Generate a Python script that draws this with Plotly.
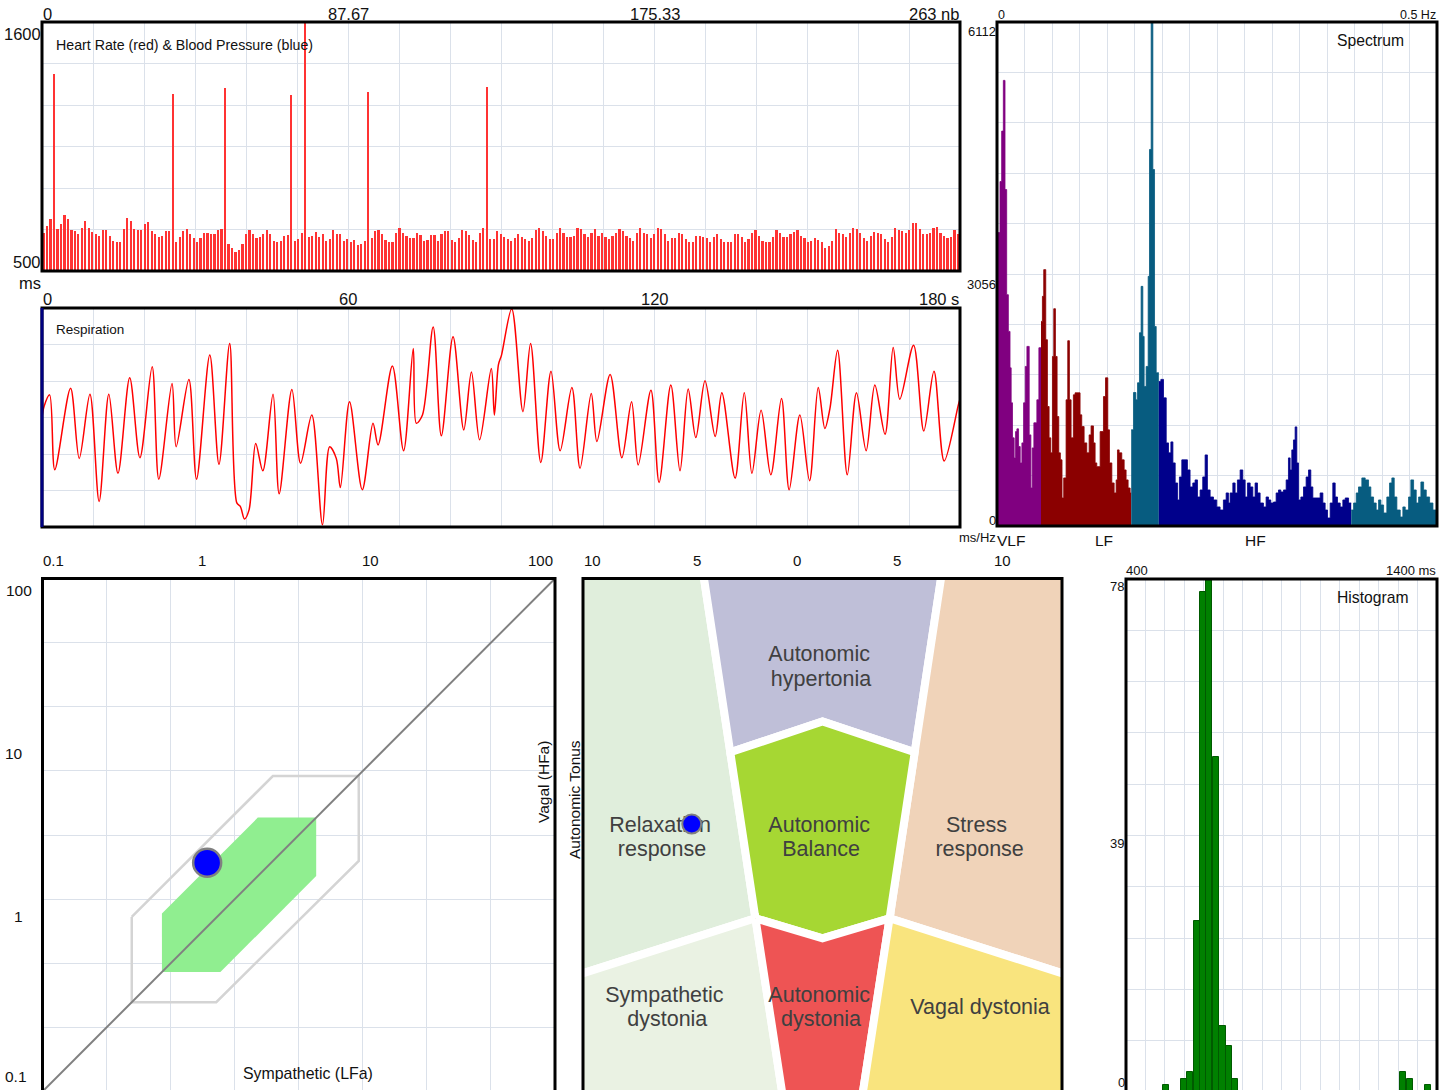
import plotly.graph_objects as go

W, H = 1450, 1090
FONT = "Liberation Sans, Arial, Helvetica, sans-serif"
GRID = "#dbe1ea"

# ---------------- data ----------------
# RR intervals (ms) per beat, 263 beats
HR_MS = [
    669, 699, 728, 1372, 684, 709, 746, 728, 680, 677,
    662, 691, 721, 691, 674, 662, 655, 680, 680, 655,
    633, 628, 628, 684, 733, 721, 684, 680, 680, 709,
    716, 677, 662, 650, 655, 677, 677, 1283, 628, 650,
    677, 684, 662, 647, 628, 644, 666, 666, 662, 662,
    680, 684, 1307, 621, 603, 585, 591, 621, 662, 680,
    662, 644, 650, 662, 680, 662, 633, 628, 633, 655,
    659, 1276, 633, 640, 666, 1599, 650, 655, 674, 650,
    662, 633, 640, 680, 662, 662, 633, 640, 630, 637,
    615, 618, 633, 1290, 644, 677, 680, 662, 637, 630,
    630, 666, 691, 666, 655, 644, 644, 666, 659, 633,
    637, 659, 659, 633, 662, 677, 677, 637, 630, 644,
    680, 677, 659, 637, 630,
    669, 691, 1313, 640, 640, 677, 662, 650, 640, 633,
    644, 662, 650, 640, 633, 644, 680, 691, 677, 655,
    640, 640, 669, 691, 669, 650, 650, 655, 691, 684,
    662, 650, 669, 684, 655, 669, 650, 640, 655, 669,
    684, 677, 655, 644, 633, 669, 691, 666, 662, 644,
    662, 691, 684, 662, 633, 644, 644, 666, 662, 640,
    628, 628, 655, 655, 650, 644, 628, 650, 662, 640,
    628, 628, 628, 662, 662, 650, 628, 640, 669, 680,
    655, 633, 628, 628, 650, 680, 669, 650, 650, 662,
    674, 680, 655, 644, 628, 633, 647, 637, 628, 603,
    610, 633, 684, 669, 662, 650, 669, 691, 684, 666,
    644, 633, 655, 674, 666, 662, 640, 628, 650, 691,
    680, 677, 669, 680, 713, 713, 684, 662, 662, 666,
    691, 696, 669, 655, 644, 650, 680, 662,
]

# Respiration (time s, amplitude in grid units)
RESP_T = [0, 0.4, 1.5, 2.5, 5.6, 7.3, 9.4, 11.2, 13.1, 14.9, 17.2, 19.2, 21.6, 22.9, 25.5,
          26.3, 28.8, 30.3, 32.9, 34.7, 36.8, 38.2, 38.9, 39.7, 40.6, 41.9, 43.3, 45.3, 46.5, 49.0,
          50.7, 52.9, 55.0, 56.4, 57.7, 58.5, 60.3, 62.8, 64.9, 65.9, 68.7, 70.9, 72.8, 73.4, 74.6,
          76.7, 78.3, 80.6, 82.7, 84.2, 85.8, 88.1, 88.7, 89.5, 90.1, 92.1, 94.3, 95.8, 97.8, 99.8,
          101.6, 103.9, 105.5, 107.7, 108.8, 111.4, 113.7, 115.6, 116.9, 119.4, 121.0, 123.3, 125.1,
          126.7, 128.2, 130.0, 132.0, 133.3, 135.9, 137.7, 139.2, 141.0, 142.9, 145.0, 146.5, 148.6,
          150.5, 152.2, 153.5, 154.5, 156.0, 157.9, 159.7, 161.6, 163.3, 165.3, 166.9, 168.2, 170.9,
          172.9, 174.9, 176.9, 179.7, 180]
RESP_V = [3.0, 3.30, 3.62, 1.57, 3.80, 1.88, 3.64, 0.70, 3.64, 1.47, 4.09, 1.90, 4.39, 1.31, 3.93,
          2.20, 4.04, 1.31, 4.71, 1.72, 5.03, 0.66, 0.56, 0.22, 0.47, 2.29, 1.54, 3.64, 0.91, 3.77,
          1.75, 3.07, 0.06, 2.20, 1.88, 1.08, 3.43, 1.02, 2.84, 2.25, 4.41, 2.09, 4.89, 2.84, 3.07,
          5.48, 2.50, 5.21, 2.66, 4.25, 2.39, 4.34, 3.07, 4.45, 4.71, 5.98, 3.16, 5.03, 1.77, 4.27,
          2.09, 3.82, 1.61, 3.66, 2.34, 4.18, 1.90, 3.43, 1.70, 3.75, 1.22, 3.89, 1.54,
          3.78, 2.45, 4.01, 2.48, 3.68, 1.34, 3.68, 1.47, 3.20, 1.43, 3.52, 1.02, 3.07,
          1.27, 3.82, 2.70, 3.25, 4.84, 1.43, 3.68, 2.09, 3.89, 2.54, 4.92, 3.50, 4.98,
          2.63, 4.27, 1.81, 3.36, 3.5]

# Spectrum (Hz, ms2/Hz) per band
VLF_F = [0.0, 0.0034, 0.0053, 0.0072, 0.0091, 0.0110, 0.0129, 0.0148, 0.0161, 0.0176, 0.0195, 0.0211,
         0.0226, 0.0245, 0.0264, 0.0283, 0.0302, 0.0321, 0.0340, 0.0366, 0.0385, 0.0400, 0.0419, 0.0453,
         0.0476, 0.0500]
VLF_P = [3558, 4177, 4789, 5404, 4080, 2805, 2360, 1918, 1494, 1069, 826, 1145,
         1178, 963, 765, 1008, 1494, 1935, 2178, 1105, 461, 947, 1251, 1530,
         2162, 2162]
LF_F = [0.0500, 0.0516, 0.0531, 0.0554, 0.0573, 0.0592, 0.0611, 0.0630, 0.0645, 0.0664, 0.0683, 0.0702,
        0.0720, 0.0739, 0.0758, 0.0785, 0.0804, 0.0823, 0.0842, 0.0868, 0.0887, 0.0944, 0.0963, 0.0990,
        0.1020, 0.1047, 0.1069, 0.1096, 0.1115, 0.1134, 0.1172, 0.1210, 0.1233, 0.1259, 0.1278, 0.1305,
        0.1331, 0.1354, 0.1369, 0.1388, 0.1418, 0.1445, 0.1467, 0.1490, 0.1513, 0.1525]
LF_P = [2481, 2785, 3109, 2259, 1449, 1069, 887, 2056, 2635, 2056, 1327, 887,
        802, 340, 583, 1530, 2247, 1530, 1069, 1591, 1615, 1348, 1206, 1008,
        887, 1105, 1214, 1008, 765, 720, 1145, 1570, 1797, 1166, 765, 522,
        401, 559, 923, 887, 802, 680, 559, 461, 401, 401]
TR1_F = [0.1525, 0.1551, 0.1578, 0.1597, 0.1619, 0.1638, 0.1657, 0.1672, 0.1695, 0.1718, 0.1733, 0.1752,
         0.1771, 0.1790, 0.1809, 0.1839]
TR1_P = [1166, 1619, 1530, 1737, 2344, 2906, 2299, 1692, 1935, 3028, 4566, 6112,
         4323, 2420, 1858, 1858]
HF_F = [0.1839, 0.1862, 0.1892, 0.1923, 0.1949, 0.1976, 0.1999, 0.2025, 0.2052, 0.2073, 0.2100, 0.2164,
        0.2194, 0.2225, 0.2251, 0.2278, 0.2308, 0.2338, 0.2365, 0.2391, 0.2422, 0.2460, 0.2497, 0.2535,
        0.2573, 0.2604, 0.2630, 0.2649, 0.2680, 0.2706, 0.2732, 0.2763, 0.2793, 0.2820, 0.2846, 0.2877,
        0.2907, 0.2933, 0.2960, 0.2990, 0.3028, 0.3058, 0.3085, 0.3111, 0.3142, 0.3172, 0.3199, 0.3225,
        0.3256, 0.3286, 0.3312, 0.3331, 0.3350, 0.3369, 0.3388, 0.3407, 0.3426, 0.3453, 0.3483, 0.3513,
        0.3540, 0.3566, 0.3589, 0.3672, 0.3703, 0.3729, 0.3756, 0.3786, 0.3816, 0.3843, 0.3869, 0.3900,
        0.3930, 0.3957, 0.3995, 0.4025]
HF_P = [1753, 1778, 1554, 1008, 887, 1020, 765, 522, 316, 595, 802, 680,
        474, 522, 559, 352, 437, 595, 862, 437, 352, 316, 231, 194,
        316, 401, 279, 401, 522, 401, 559, 680, 559, 352, 522, 474,
        352, 522, 401, 279, 231, 352, 316, 279, 291, 401, 437, 413,
        437, 559, 826, 680, 923, 1044, 1202, 765, 316, 352, 474, 595,
        680, 474, 340, 401, 279, 194, 97, 279, 522, 352, 279, 231,
        316, 340, 279, 279]
TR2_F = [0.4025, 0.4052, 0.4082, 0.4108, 0.4146, 0.4184, 0.4222, 0.4248, 0.4279, 0.4309, 0.4336, 0.4362,
         0.4393, 0.4430, 0.4461, 0.4487, 0.4514, 0.4544, 0.4582, 0.4612, 0.4639, 0.4677, 0.4703, 0.4734,
         0.4764, 0.4791, 0.4817, 0.4848, 0.4878, 0.4916, 0.4954, 0.5000]
TR2_P = [194, 279, 401, 474, 583, 559, 474, 352, 279, 194, 316, 255,
         158, 352, 522, 583, 352, 194, 109, 231, 194, 352, 559, 437,
         279, 352, 534, 437, 352, 279, 194, 194]

# Autonomic balance (log-log)
NORM_LF = [0.5, 0.5, 1.1, 4.0, 4.0, 1.82, 0.5]
NORM_HF = [1.1, 0.5, 0.5, 1.82, 4.0, 4.0, 1.1]
WIDE_LF = [0.333, 0.333, 1.04, 7.1, 7.1, 2.23, 0.333]
WIDE_HF = [1.05, 0.333, 0.333, 2.23, 7.0, 7.0, 1.05]
DIAG = [0.1, 100]
PATIENT_LF = [0.92]
PATIENT_HF = [2.18]

# Zone map (normalised coordinates): polygons
ZONES = [
    ("#e0eedc", [-1.1, -0.511, -0.385, -0.28, -1.1], [1.1, 1.1, 0.322, -0.326, -0.570]),
    ("#bfbfd8", [-0.511, 0.511, 0.385, 0.0, -0.385], [1.1, 1.1, 0.322, 0.442, 0.322]),
    ("#f0d3b9", [0.511, 1.1, 1.1, 0.28, 0.385], [1.1, 1.1, -0.570, -0.326, 0.322]),
    ("#a6d733", [-0.385, 0.0, 0.385, 0.28, 0.0, -0.28], [0.322, 0.442, 0.322, -0.326, -0.404, -0.326]),
    ("#eaf2e3", [-1.1, -0.28, -0.153, -1.1], [-0.570, -0.326, -1.1, -1.1]),
    ("#ee5454", [-0.28, 0.0, 0.28, 0.153, -0.153], [-0.326, -0.404, -0.326, -1.1, -1.1]),
    ("#f9e47e", [0.28, 1.1, 1.1, 0.153], [-0.326, -0.570, -1.1, -1.1]),
]
ZONE_TEXT = ["Autonomic", "hypertonia", "Relaxation", "response", "Autonomic", "Balance",
             "Stress", "response", "Sympathetic", "dystonia", "Autonomic", "dystonia", "Vagal dystonia"]
ZONE_TEXT_U = [-0.014, -0.006, -0.678, -0.670, -0.014, -0.006, 0.643, 0.656, -0.660, -0.648,
               -0.014, -0.006, 0.658]
ZONE_TEXT_V = [0.700, 0.602, 0.033, -0.060, 0.033, -0.060, 0.033, -0.060, -0.630, -0.727,
               -0.630, -0.727, -0.680]
ZONE_POINT = ([-0.546], [0.042])

# Histogram (ms, count)
HIST_MS = [528, 587, 606, 628, 648, 668, 690, 710, 731, 751, 1290, 1312, 1372]
HIST_N = [1, 2, 3, 26, 76, 78, 51, 10, 7, 2, 3, 2, 1]


# ---------------- helpers ----------------
def px(x):
    return x / W


def py(y):
    return 1 - y / H


fig = go.Figure()

# 1. heart rate
fig.add_trace(go.Bar(x=[i + 0.5 for i in range(len(HR_MS))], y=HR_MS, width=0.48,
                     marker=dict(color="#ff3333", line=dict(width=0)),
                     xaxis="x", yaxis="y", hoverinfo="skip"))
# 2. respiration
fig.add_trace(go.Scatter(x=RESP_T, y=RESP_V, mode="lines",
                         line=dict(color="#ff0000", width=1.5, shape="spline", smoothing=0.9),
                         xaxis="x2", yaxis="y2"))
# 3. spectrum
for f, p, c in [(VLF_F, VLF_P, "#800080"), (LF_F, LF_P, "#8b0000"), (TR1_F, TR1_P, "#075c80"),
                (HF_F, HF_P, "#00008b"), (TR2_F, TR2_P, "#075c80")]:
    fig.add_trace(go.Scatter(x=f, y=p, mode="lines", line=dict(shape="hv", width=0.8, color=c),
                             fill="tozeroy", fillcolor=c, xaxis="x3", yaxis="y3"))
# 4. log-log balance
fig.add_trace(go.Scatter(x=NORM_LF, y=NORM_HF, mode="lines", fill="toself", fillcolor="#90ee90",
                         line=dict(width=0, color="#90ee90"), xaxis="x4", yaxis="y4"))
fig.add_trace(go.Scatter(x=WIDE_LF, y=WIDE_HF, mode="lines", line=dict(width=2.5, color="#d4d4d4"),
                         xaxis="x4", yaxis="y4"))
fig.add_trace(go.Scatter(x=DIAG, y=DIAG, mode="lines", line=dict(width=2, color="#808080"),
                         xaxis="x4", yaxis="y4"))
fig.add_trace(go.Scatter(x=PATIENT_LF, y=PATIENT_HF, mode="markers",
                         marker=dict(size=28, color="#0000ff", line=dict(width=2.5, color="#808080")),
                         xaxis="x4", yaxis="y4"))
# 5. zone map
for col, zx, zy in ZONES:
    fig.add_trace(go.Scatter(x=zx + [zx[0]], y=zy + [zy[0]], mode="lines", fill="toself",
                             fillcolor=col, line=dict(color="white", width=8),
                             xaxis="x5", yaxis="y5"))
fig.add_trace(go.Scatter(x=ZONE_TEXT_U, y=ZONE_TEXT_V, mode="text",
                         text=ZONE_TEXT, textposition="middle center",
                         textfont=dict(size=21.5, color="#404040", family=FONT),
                         xaxis="x5", yaxis="y5"))
fig.add_trace(go.Scatter(x=ZONE_POINT[0], y=ZONE_POINT[1], mode="markers",
                         marker=dict(size=19, color="#0000ff", line=dict(width=2, color="#808080")),
                         xaxis="x5", yaxis="y5"))
# 6. histogram
fig.add_trace(go.Bar(x=HIST_MS, y=HIST_N, width=20,
                     marker=dict(color="#008000", line=dict(color="#005a00", width=1)),
                     xaxis="x6", yaxis="y6"))


def ax(domain, rng, **kw):
    d = dict(domain=domain, range=rng, showticklabels=False, ticks="", zeroline=False,
             showline=False, showgrid=True, gridcolor=GRID, gridwidth=1, fixedrange=True,
             showspikes=False)
    d.update(kw)
    return d


LOG_GRID = [10 ** (-1 + 3 * k / 8) for k in range(1, 8)]

fig.update_layout(
    width=W, height=H, margin=dict(l=0, r=0, t=0, b=0),
    paper_bgcolor="white", plot_bgcolor="white", showlegend=False, hovermode=False,
    font=dict(family=FONT, color="#111111"),
    xaxis=ax([px(42), px(960)], [0, 263], tick0=0, dtick=263 / 18, anchor="y"),
    yaxis=ax([py(271), py(22)], [500, 1600], tick0=500, dtick=1100 / 6, anchor="x"),
    xaxis2=ax([px(42), px(960)], [0, 180], tick0=0, dtick=10, anchor="y2"),
    yaxis2=ax([py(527), py(308)], [0, 6], tick0=0, dtick=1, anchor="x2"),
    xaxis3=ax([px(997), px(1437)], [0, 0.5], tick0=0, dtick=0.03125, anchor="y3"),
    yaxis3=ax([py(526), py(22)], [0, 6112], tick0=0, dtick=611.2, anchor="x3"),
    xaxis4=ax([px(42.5), px(555)], [-1, 2], type="log", tickvals=LOG_GRID, anchor="y4"),
    yaxis4=ax([0, py(578.6)], [-0.991, 2], type="log", tickvals=LOG_GRID, anchor="x4"),
    xaxis5=ax([px(583), px(1062)], [-1, 1], showgrid=False, anchor="y5"),
    yaxis5=ax([0, py(578.5)], [-0.996, 1], showgrid=False, anchor="x5"),
    xaxis6=ax([px(1126), px(1437)], [400, 1400], tick0=400, dtick=62.5, anchor="y6"),
    yaxis6=ax([0, py(579)], [0.3, 78], tick0=0, dtick=7.8, anchor="x6"),
    bargap=0,
)

# panel borders
shapes = []
for (x0, y0, x1, y1) in [(42, 22, 960, 271), (42, 308, 960, 527), (997, 22, 1437, 526),
                         (42.5, 578.6, 555, 1096), (583, 578.5, 1062, 1096), (1126, 579, 1437, 1096)]:
    shapes.append(dict(type="rect", xref="paper", yref="paper", x0=px(x0), x1=px(x1),
                       y0=py(y1), y1=py(y0), line=dict(color="black", width=3), layer="above"))
shapes.append(dict(type="line", xref="paper", yref="paper", x0=px(42), x1=px(42), y0=py(527), y1=py(308),
                   line=dict(color="#000080", width=3), layer="above"))
fig.update_layout(shapes=shapes)

anns = []


def ann(text, x, y, size, xa="center", ya="middle", angle=0, color="#111111"):
    anns.append(dict(text=text, x=px(x), y=py(y), xref="paper", yref="paper", showarrow=False,
                     xanchor=xa, yanchor=ya, textangle=angle, borderpad=0,
                     font=dict(size=size, color=color, family=FONT)))


# HR panel
ann("0", 42, 14, 16.5, "left")
ann("87.67", 348, 14, 16.5)
ann("175.33", 655, 14, 16.5)
ann("263 nb", 960, 14, 16.5, "right")
ann("1600", 42, 34, 16.5, "right")
ann("500", 42, 262, 16.5, "right")
ann("ms", 30, 283, 16.5)
ann("Heart Rate (red) &amp; Blood Pressure (blue)", 55, 45, 14.2, "left")
# respiration
ann("0", 42, 299, 16.5, "left")
ann("60", 348, 299, 16.5)
ann("120", 655, 299, 16.5)
ann("180 s", 960, 299, 16.5, "right")
ann("Respiration", 55, 330, 13.5, "left")
# spectrum
ann("0", 997, 15, 12.5, "left")
ann("0.5 Hz", 1437, 15, 12.5, "right")
ann("6112", 997, 31, 13, "right")
ann("3056", 997, 284, 13, "right")
ann("0", 997, 520, 13, "right")
ann("ms/Hz", 997, 537, 13, "right")
ann("VLF", 996, 540, 15.5, "left")
ann("LF", 1104, 540, 15.5)
ann("HF", 1255, 540, 15.5)
ann("Spectrum", 1370, 40, 15.7)
# log-log panel
ann("0.1", 42, 560, 15, "left")
ann("1", 202, 560, 15)
ann("10", 370, 560, 15)
ann("100", 540, 560, 15)
ann("100", 19, 590, 15.5)
ann("10", 14, 753, 15.5)
ann("1", 18, 916, 15.5)
ann("0.1", 16, 1076, 15.5)
ann("Sympathetic (LFa)", 308, 1073, 15.9)
ann("Vagal (HFa)", 543, 782, 15.5, angle=-90)
ann("Autonomic Tonus", 574, 800, 15.5, angle=-90)
# zone map
for t, x in [("10", 592), ("5", 697), ("0", 797), ("5", 897), ("10", 1002)]:
    ann(t, x, 560, 15)
# histogram
ann("400", 1137, 571, 13)
ann("1400 ms", 1437, 571, 13, "right")
ann("78", 1117, 587, 13)
ann("39", 1117, 843, 13)
ann("0", 1121, 1082, 13)
ann("Histogram", 1372, 597, 15.7)

fig.update_layout(annotations=anns)

fig.write_html("out.html", config={"displayModeBar": False},
               post_script="document.body.style.margin='0px';document.body.style.padding='0px';"
                           "document.body.style.overflow='hidden';")
